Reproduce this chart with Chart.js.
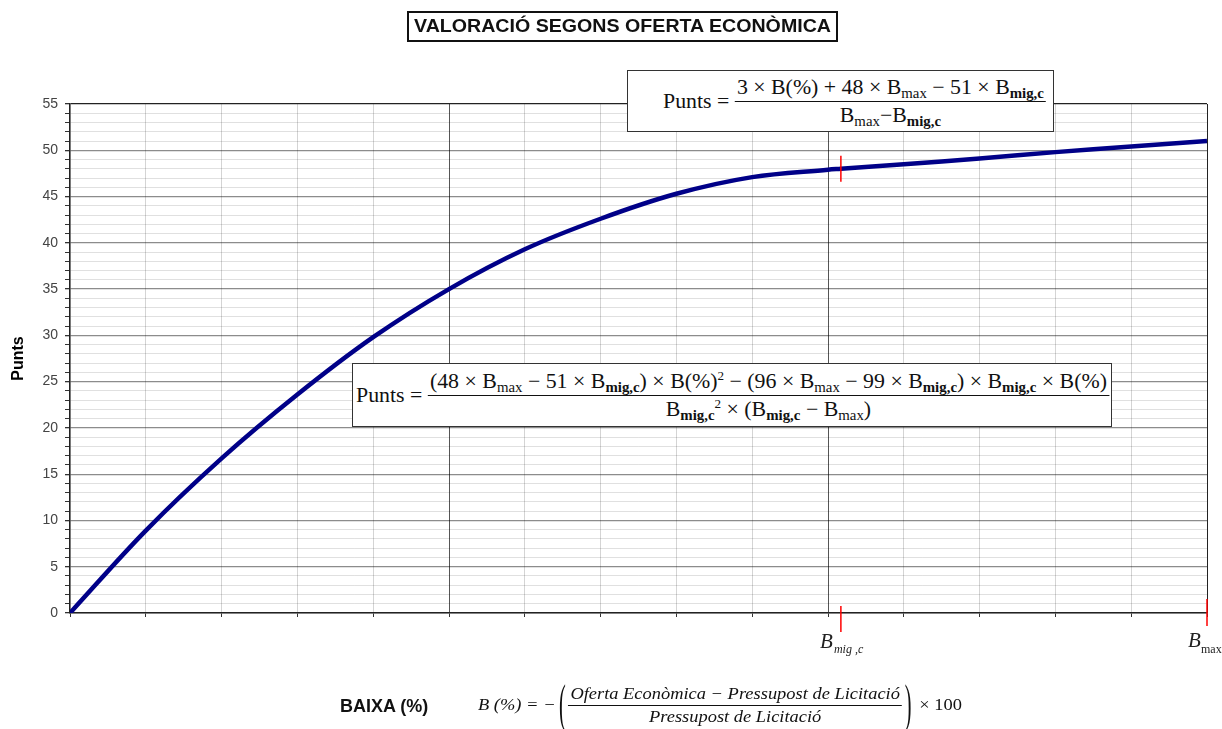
<!DOCTYPE html>
<html>
<head>
<meta charset="utf-8">
<script src="https://cdn.jsdelivr.net/npm/chart.js@4.4.1/dist/chart.umd.min.js"></script>
<style>
    body { margin: 0; background: #fff; }
    #wrap { position: relative; width: 1222px; height: 729px; }
    .ov { position: absolute; white-space: nowrap; color: #111; }
    .title { left: 407px; top: 11px; width: 431px; height: 31px; box-sizing: border-box; border: 2.5px solid #111;
             font: bold 19px "Liberation Sans", Arial, sans-serif; line-height: 26px; padding-left: 5px; }
    .fbox { border: 1.5px solid #333; background: #fff; box-sizing: border-box; display: flex; align-items: center;
            font-family: "Liberation Serif", "Times New Roman", serif; }
    .fit { display: inline-flex; align-items: center; transform-origin: left center; }
    .frac { display: inline-flex; flex-direction: column; align-items: center; }
    .frac .num { border-bottom: 1.3px solid #111; padding: 0 2px 1px; }
    .frac .den { padding-top: 1px; }
    sub { font-size: 0.68em; vertical-align: -0.3em; line-height: 0; }
    sub.b { font-weight: bold; }
    .xtitle { left: 340px; top: 696px; font: bold 18px "Liberation Sans", Arial, sans-serif; }
    .bform { left: 478px; top: 678px; height: 54px; display: flex; align-items: center;
             font: italic 17px "Liberation Serif", "Times New Roman", serif; }
    .paren { display: inline-block; transform: scale(1.1, 3.1); font-style: normal; font-weight: 100; margin: 0 3px; }
</style>
</head>
<body>
<div id="wrap">
    <canvas id="chart"></canvas>

    <div class="ov title"><span class="fit" data-w="417">VALORACIÓ SEGONS OFERTA ECONÒMICA</span></div>

    <div class="ov fbox" style="left:627px;top:70px;width:427px;height:62px;padding-left:35px;font-size:21px;">
        <span class="fit" data-w="383">
            <span>Punts =&nbsp;</span>
            <span class="frac">
                <span class="num">3 × B(%) + 48 × B<sub>max</sub> − 51 × B<sub class="b">mig,c</sub></span>
                <span class="den">B<sub>max</sub>−B<sub class="b">mig,c</sub></span>
            </span>
        </span>
    </div>

    <div class="ov fbox" style="left:352px;top:363px;width:760px;height:64px;padding-left:3px;font-size:21px;">
        <span class="fit" data-w="753">
            <span>Punts =&nbsp;</span>
            <span class="frac">
                <span class="num">(48 × B<sub>max</sub> − 51 × B<sub class="b">mig,c</sub>) × B(%)<sup style="font-size:0.6em">2</sup> − (96 × B<sub>max</sub> − 99 × B<sub class="b">mig,c</sub>) × B<sub class="b">mig,c</sub> × B(%)</span>
                <span class="den">B<sub class="b">mig,c</sub><sup style="font-size:0.6em">2</sup> × (B<sub class="b">mig,c</sub> − B<sub>max</sub>)</span>
            </span>
        </span>
    </div>

    <div class="ov xtitle">BAIXA (%)</div>

    <div class="ov bform">
        <span class="fit" data-w="484">
            <span>B (%) = −</span>
            <span class="paren">(</span>
            <span class="frac">
                <span class="num" style="border-bottom-width:1px">Oferta Econòmica − Pressupost de Licitació</span>
                <span class="den">Pressupost de Licitació</span>
            </span>
            <span class="paren">)</span>
            <span style="font-style:normal">&nbsp;× 100</span>
        </span>
    </div>
</div>

<script>
// values
const baixa = [0, 1, 2, 3, 4, 5, 6, 7, 8, 9, 10, 10.17, 11, 12, 13, 14, 15];
const punts = [0, 8.9, 16.7, 23.6, 29.8, 35.0, 39.3, 42.6, 45.3, 47.1, 47.9, 48.0, 48.5, 49.1, 49.8, 50.4, 51.0];
const yTickLabels = [0, 5, 10, 15, 20, 25, 30, 35, 40, 45, 50, 55];
const xMajor = [5, 10];
const B_MIG = 10.17;
const B_MAX = 15;

const points = baixa.map((b, i) => ({ x: b, y: punts[i] }));

// red marks + B labels under the axis
const marks = {
    id: 'marks',
    afterDatasetsDraw(chart) {
        const { ctx, scales: { x, y } } = chart;
        const y0 = y.getPixelForValue(0);
        const xm = x.getPixelForValue(B_MIG);
        const xM = x.getPixelForValue(B_MAX);

        ctx.save();
        ctx.strokeStyle = '#ff0000';
        ctx.lineWidth = 1.5;
        const seg = (x1, y1, x2, y2) => { ctx.beginPath(); ctx.moveTo(x1, y1); ctx.lineTo(x2, y2); ctx.stroke(); };
        seg(xm, y.getPixelForValue(46.6), xm, y.getPixelForValue(49.4));
        seg(xm, y0 - 7, xm, y0 + 19);
        seg(xM, y0 - 14, xM, y0 + 13);

        ctx.fillStyle = '#222';
        ctx.textBaseline = 'alphabetic';
        ctx.font = 'italic 21px "Liberation Serif"';
        ctx.fillText('B', xm - 21, y0 + 35);
        ctx.font = 'italic 12px "Liberation Serif"';
        ctx.fillText('mig ,c', xm - 7, y0 + 40);

        ctx.font = 'italic 21px "Liberation Serif"';
        ctx.fillText('B', xM - 19, y0 + 34);
        ctx.font = '12px "Liberation Serif"';
        ctx.fillText('max', xM - 6, y0 + 40);
        ctx.restore();
    }
};

new Chart(document.getElementById('chart'), {
    type: 'line',
    data: {
        datasets: [{
            label: 'Punts',
            data: points,
            borderColor: '#000088',
            borderWidth: 4.5,
            pointRadius: 0,
            tension: 0.35,
            fill: false
        }]
    },
    options: {
        animation: false,
        responsive: true,
        maintainAspectRatio: false,
        layout: { padding: { top: 104, right: 15, bottom: 56, left: 0 } },
        plugins: { legend: { display: false }, tooltip: { enabled: false } },
        scales: {
            x: {
                type: 'linear', min: 0, max: 15,
                afterFit: s => { s.height = 60; },
                ticks: { stepSize: 1, autoSkip: false, callback: () => '' },
                grid: {
                    color: c => {
                        const v = c.tick.value;
                        if (v === 15) return '#222';
                        return xMajor.includes(v) ? '#555' : 'rgba(0,0,0,0.17)';
                    },
                    tickColor: '#333',
                    tickLength: 4
                },
                border: { color: '#222', width: 1.5 }
            },
            y: {
                min: 0, max: 55,
                afterFit: s => { s.width = 70; },
                ticks: {
                    stepSize: 1, autoSkip: false, padding: 7,
                    color: '#444',
                    font: { family: '"Liberation Sans", Arial', size: 14 },
                    callback: v => yTickLabels.includes(v) ? String(v) : ''
                },
                grid: {
                    color: c => {
                        const v = c.tick.value;
                        if (v === 55) return '#222';
                        return yTickLabels.includes(v) ? 'rgba(0,0,0,0.45)' : 'rgba(0,0,0,0.12)';
                    },
                    lineWidth: c => yTickLabels.includes(c.tick.value) ? 1.3 : 1,
                    tickColor: '#333',
                    tickLength: 5
                },
                border: { color: '#222', width: 1.5 },
                title: {
                    display: true, text: 'Punts', color: '#000',
                    font: { family: '"Liberation Sans", Arial', size: 16, weight: 'bold' },
                    padding: { top: 9, bottom: 0 }
                }
            }
        }
    },
    plugins: [marks]
});

// squeeze formula text to the widths in the picture
function fit() {
    document.querySelectorAll('.fit').forEach(el => {
        el.style.transform = '';
        const w = el.getBoundingClientRect().width;
        el.style.transform = `scaleX(${el.dataset.w / w})`;
    });
}
document.fonts.ready.then(fit);
</script>
</body>
</html>
